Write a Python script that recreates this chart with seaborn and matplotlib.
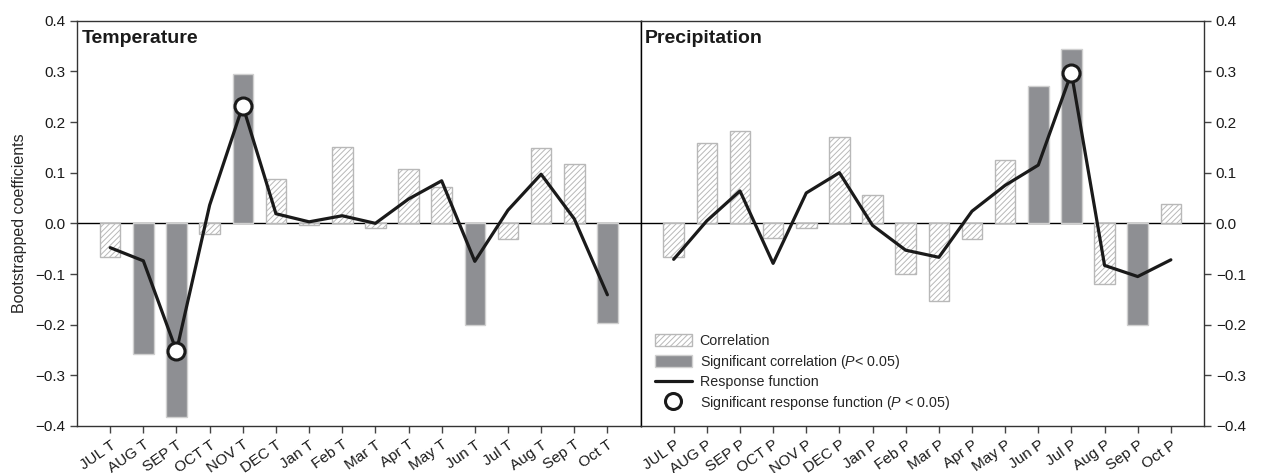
import numpy as np
import pandas as pd
import matplotlib
matplotlib.use("Agg")
import matplotlib.pyplot as plt
import seaborn as sns
from matplotlib.patches import Patch
from matplotlib.lines import Line2D

# ---------------- data ----------------
temp_labels = ["JUL T", "AUG T", "SEP T", "OCT T", "NOV T", "DEC T", "Jan T", "Feb T",
               "Mar T", "Apr T", "May T", "Jun T", "Jul T", "Aug T", "Sep T", "Oct T"]
temp_corr = [-0.066, -0.257, -0.382, -0.022, 0.295, 0.087, -0.004, 0.151,
             -0.010, 0.108, 0.071, -0.200, -0.031, 0.149, 0.118, -0.196]
temp_corr_sig = [False, True, True, False, True, False, False, False,
                 False, False, False, True, False, False, False, True]
temp_resp = [-0.048, -0.074, -0.252, 0.036, 0.232, 0.019, 0.003, 0.015,
             0.000, 0.048, 0.084, -0.075, 0.026, 0.097, 0.009, -0.141]
temp_resp_sig = [False, False, True, False, True, False, False, False,
                 False, False, False, False, False, False, False, False]

prec_labels = ["JUL P", "AUG P", "SEP P", "OCT P", "NOV P", "DEC P", "Jan P", "Feb P",
               "Mar P", "Apr P", "May P", "Jun P", "Jul P", "Aug P", "Sep P", "Oct P"]
prec_corr = [-0.066, 0.158, 0.182, -0.028, -0.010, 0.170, 0.056, -0.099,
             -0.154, -0.030, 0.126, 0.272, 0.345, -0.120, -0.200, 0.039]
prec_corr_sig = [False, False, False, False, False, False, False, False,
                 False, False, False, True, True, False, True, False]
prec_resp = [-0.071, 0.005, 0.064, -0.079, 0.060, 0.100, -0.004, -0.053,
             -0.067, 0.024, 0.075, 0.115, 0.297, -0.083, -0.105, -0.072]
prec_resp_sig = [False, False, False, False, False, False, False, False,
                 False, False, False, False, True, False, False, False]

panel_titles = ["Temperature", "Precipitation"]
y_label = "Bootstrapped coefficients"
legend_labels = ["Correlation", "Significant correlation ($P$< 0.05)",
                 "Response function", "Significant response function ($P$ < 0.05)"]

# ---------------- style ----------------
sns.set_theme(style="ticks")
plt.rcParams["font.family"] = ["Liberation Sans", "DejaVu Sans"]
plt.rcParams["mathtext.fontset"] = "custom"
plt.rcParams["mathtext.it"] = "Liberation Sans:italic"
plt.rcParams["mathtext.rm"] = "Liberation Sans"
plt.rcParams["hatch.linewidth"] = 0.7

SIG_COLOR = "#8e8f93"
HATCH_EDGE = "#b8b8b8"
LINE_COLOR = "#1a1a1a"
SPINE = "#333333"

fig, axes = plt.subplots(1, 2, figsize=(12.78, 4.73), dpi=100, sharey=True)
fig.subplots_adjust(left=0.0603, right=0.9421, top=0.9562, bottom=0.0994, wspace=0)


def draw(ax, labels, corr, corr_sig, resp, resp_sig, title):
    pos = np.arange(len(labels))
    df = pd.DataFrame({
        "pos": pos,
        "corr": corr,
        "kind": np.where(corr_sig, "Significant", "Correlation"),
        "resp": resp,
        "rsig": resp_sig,
    })
    ax.axhline(0, color="black", lw=1.0, zorder=1)
    sns.barplot(data=df, x="pos", y="corr", hue="kind",
                hue_order=["Correlation", "Significant"],
                palette={"Correlation": "white", "Significant": SIG_COLOR},
                dodge=False, native_scale=True, width=0.62, saturation=1,
                legend=False, ax=ax, linewidth=1.0, edgecolor="#d0d0d0", zorder=2)
    for p in ax.patches:
        fc = p.get_facecolor()
        if fc[0] > 0.95 and fc[1] > 0.95 and fc[2] > 0.95:
            p.set_hatch("//////")
            p.set_edgecolor(HATCH_EDGE)
    sns.lineplot(data=df, x="pos", y="resp", color=LINE_COLOR, lw=2.3,
                 ax=ax, zorder=4, sort=False)
    sns.scatterplot(data=df[df["rsig"]], x="pos", y="resp", s=150,
                    color="white", edgecolor=LINE_COLOR, linewidth=2.2,
                    ax=ax, zorder=5)
    ax.set_xlim(-1, len(labels))
    ax.set_ylim(-0.4, 0.4)
    ax.set_xticks(pos)
    ax.set_xticklabels(labels, rotation=35, ha="right", rotation_mode="anchor",
                       fontsize=11)
    ax.set_xlabel("")
    ax.text(0.008, 0.977, title, transform=ax.transAxes, fontsize=14,
            fontweight="bold", va="top", ha="left", color="#1a1a1a")
    for s in ax.spines.values():
        s.set_visible(True)
        s.set_color(SPINE)
        s.set_linewidth(1.0)
    ax.tick_params(axis="both", direction="out", length=5, width=1,
                   color="#444444", labelcolor="#1a1a1a", labelsize=11)


draw(axes[0], temp_labels, temp_corr, temp_corr_sig, temp_resp, temp_resp_sig,
     panel_titles[0])
draw(axes[1], prec_labels, prec_corr, prec_corr_sig, prec_resp, prec_resp_sig,
     panel_titles[1])

yt = [-0.4, -0.3, -0.2, -0.1, 0.0, 0.1, 0.2, 0.3, 0.4]
axes[0].set_yticks(yt)
axes[0].set_yticklabels([f"{v:.1f}".replace("-", "\u2212") for v in yt])
axes[0].set_ylabel(y_label, fontsize=11.5, labelpad=6)
axes[0].spines["right"].set_color("black")

axes[1].yaxis.tick_right()
axes[1].yaxis.set_label_position("right")
axes[1].tick_params(axis="y", labelright=True, labelleft=False, left=False, right=True)
axes[1].set_ylabel(y_label, fontsize=11.5, labelpad=18)
axes[1].spines["left"].set_color("black")

handles = [
    Patch(facecolor="white", edgecolor=HATCH_EDGE, hatch="//////", linewidth=1.0),
    Patch(facecolor=SIG_COLOR, edgecolor="#d0d0d0", linewidth=1.0),
    Line2D([], [], color=LINE_COLOR, lw=2.3),
    Line2D([], [], color=LINE_COLOR, marker="o", markersize=11.5, markerfacecolor="white",
           markeredgewidth=2.2, linestyle="none"),
]
axes[1].legend(handles, legend_labels, loc="lower left", bbox_to_anchor=(0.025, 0.035),
               frameon=False, fontsize=10.3, handlelength=2.6, handleheight=0.9,
               handletextpad=0.55, labelspacing=0.32, borderpad=0, borderaxespad=0)

fig.savefig("out.png", dpi=100)
